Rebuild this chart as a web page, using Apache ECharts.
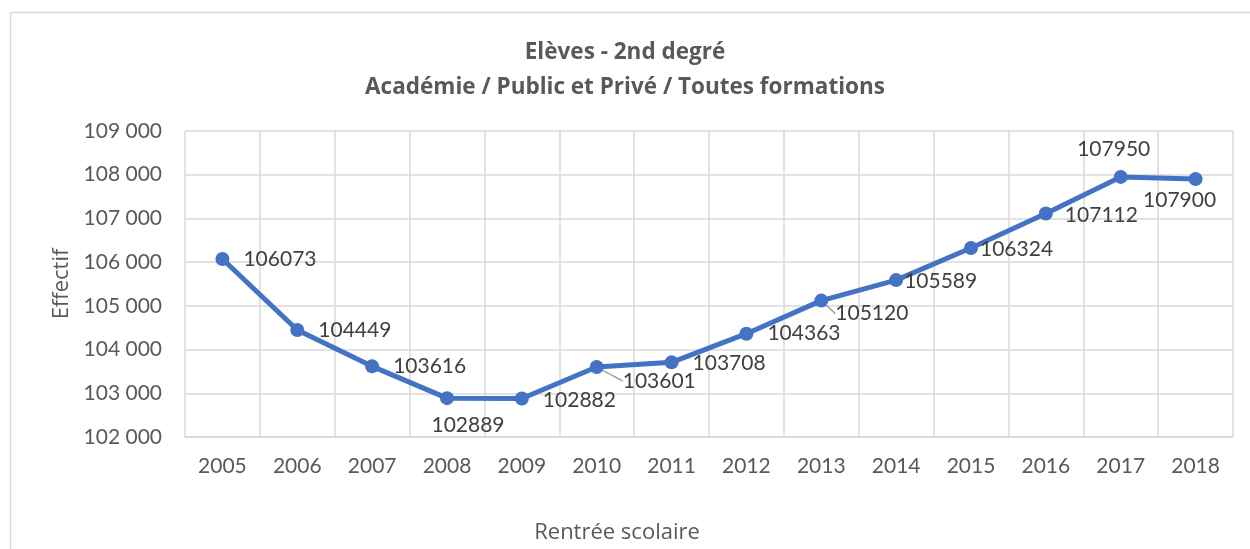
<!DOCTYPE html>
<html>
<head>
<meta charset="utf-8">
<script src="https://cdn.jsdelivr.net/npm/echarts@6/dist/echarts.min.js"></script>
<style>
  html, body { margin: 0; padding: 0; background: #fff; }
  #chart { width: 1250px; height: 549px; }
</style>
</head>
<body>
<div id="chart"></div>
<script>
// data
const years = ['2005', '2006', '2007', '2008', '2009', '2010', '2011', '2012', '2013', '2014', '2015', '2016', '2017', '2018'];
const effectif = [106073, 104449, 103616, 102889, 102882, 103601, 103708, 104363, 105120, 105589, 106324, 107112, 107950, 107900];

const FONT = 'Lato, "Open Sans", sans-serif';
const TFONT = '"Open Sans", Lato, sans-serif';
const TXT = '#595959';

// where each value label sits (Excel placed them by hand)
const labelPos = ['right', 'right', 'right', 'bottom', 'right', 'right', 'right',
  'right', 'right', 'right', 'right', 'right', 'top', 'bottom'];
const labelShift = [
  [9, 0], [9, 0], [9, 0], [21, 5], [9, 2], [14, 14], [9, 1],
  [9, 0], [2, 13], [-4, 1], [-3, 1], [7, 2], [-7, -5], [-16, -1]
];
// these two labels were dragged away and keep a leader line
const withLine = [5, 8];

var chart = echarts.init(document.getElementById('chart'));

let seriesData = effectif.map((v, i) => ({
  value: v,
  label: { position: labelPos[i] },
  labelLine: { show: withLine.includes(i) }
}));

let option = {
  animation: false,
  backgroundColor: '#fff',
  title: {
    text: 'Elèves - 2nd degré\nAcadémie / Public et Privé / Toutes formations',
    left: 'center',
    top: 30,
    textStyle: {
      fontFamily: TFONT,
      fontSize: 22.5,
      fontWeight: 'bold',
      color: TXT,
      lineHeight: 35
    }
  },
  graphic: [
    {
      type: 'polyline',
      shape: { points: [[10.5, 549], [10.5, 12.5], [1250, 12.5]] },
      style: { stroke: '#d9d9d9', lineWidth: 1.5, fill: null }
    }
  ],
  grid: {
    left: 185,
    right: 17,
    top: 131,
    bottom: 112
  },
  xAxis: {
    type: 'category',
    data: years,
    boundaryGap: true,
    name: 'Rentrée scolaire',
    nameLocation: 'middle',
    nameGap: 85,
    // the axis title sits left of the plot centre in the original
    nameTextStyle: { fontFamily: TFONT, fontSize: 22, color: TXT, padding: [0, 184, 0, 0] },
    axisLine: { show: true, lineStyle: { color: '#d9d9d9', width: 1.5 } },
    axisTick: { show: false },
    axisLabel: { fontFamily: FONT, fontSize: 21, color: TXT, margin: 19 },
    splitLine: { show: true, lineStyle: { color: '#d9d9d9', width: 1.5 } }
  },
  yAxis: {
    type: 'value',
    min: 102000,
    max: 109000,
    interval: 1000,
    name: 'Effectif',
    nameLocation: 'middle',
    nameGap: 112,
    nameTextStyle: { fontFamily: TFONT, fontSize: 22, color: TXT },
    axisLine: { show: false },
    axisTick: { show: false },
    axisLabel: {
      fontFamily: FONT,
      fontSize: 21,
      color: TXT,
      margin: 23,
      formatter: v => String(v).replace(/\B(?=(\d{3})+(?!\d))/g, ' ')
    },
    splitLine: { show: true, lineStyle: { color: '#d9d9d9', width: 1.5 } }
  },
  series: [
    {
      type: 'line',
      data: seriesData,
      symbol: 'circle',
      symbolSize: 14,
      lineStyle: { color: '#4472c4', width: 5 },
      itemStyle: { color: '#4472c4' },
      label: {
        show: true,
        distance: 5,
        fontFamily: FONT,
        fontSize: 21,
        color: '#404040'
      },
      labelLine: {
        lineStyle: { color: '#a6a6a6', width: 1.5 }
      },
      labelLayout: function (params) {
        let s = labelShift[params.dataIndex];
        return { dx: s[0], dy: s[1] };
      }
    }
  ]
};

option && chart.setOption(option);
</script>
</body>
</html>
